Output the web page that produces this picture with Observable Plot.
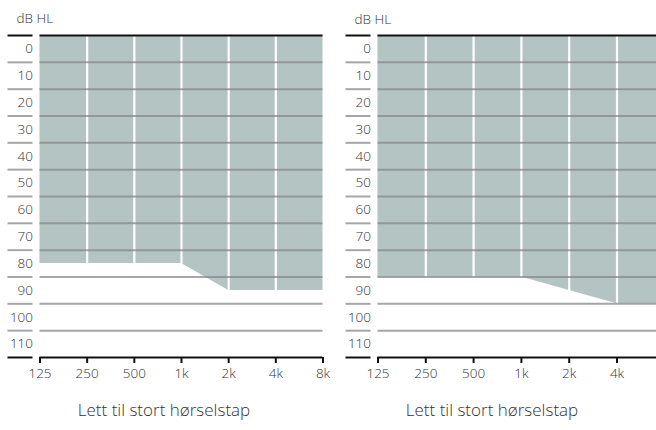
<!DOCTYPE html>
<html>
<head>
<meta charset="utf-8">
<script src="https://cdn.jsdelivr.net/npm/d3@7"></script>
<script src="https://cdn.jsdelivr.net/npm/@observablehq/plot@0.6"></script>
<style>
  html, body { margin: 0; padding: 0; background: #fff; }
  body { width: 656px; height: 430px; overflow: hidden; font-family: "Open Sans", "Noto Sans", sans-serif; }
  #charts { display: flex; width: 656px; overflow: hidden; height: 390px; }
  #charts > div { flex: none; }
  #charts svg { max-width: none; }
  #captions { display: flex; width: 656px; }
  #captions div { width: 328px; text-align: center; font-size: 17px; line-height: 40px; color: #333; font-weight: 300; }
</style>
</head>
<body>
<div id="charts"><div id="c1"></div><div id="c2"></div></div>
<div id="captions"><div id="t1"></div><div id="t2"></div></div>
<script>
// ---- data ----
const freqs = [125, 250, 500, 1000, 2000, 4000, 8000];
const freqLabels = ["125", "250", "500", "1k", "2k", "4k", "8k"];
const freqLabelsB = ["125", "250", "500", "1k", "2k", "4k", ""]; // 8k falls outside the visible page on the right chart
const levelLabels = [0, 10, 20, 30, 40, 50, 60, 70, 80, 90, 100, 110];
const bandEdges = [-5, 5, 15, 25, 35, 45, 55, 65, 75, 85, 95, 105, 115];
const innerFreqs = [250, 500, 1000, 2000, 4000];
const thresholdA = [80, 80, 80, 80, 90, 90, 90];
const thresholdB = [85, 85, 85, 85, 90, 95, 95];
const captionA = "Lett til stort hørselstap";
const captionB = "Lett til stort hørselstap";
const yLabel = "dB HL";

const fillColor = "#b4c4c2";
const lineColor = "#888";

function chart(thresholds, labels, width) {
  const rows = freqs.map((f, i) => ({freq: f, db: thresholds[i]}));
  const xTicks = freqs.map((f, i) => ({freq: f, label: labels[i]})).filter(d => d.label);
  const topEdge = bandEdges[0];
  const bottomEdge = bandEdges[bandEdges.length - 1];
  const innerEdges = bandEdges.slice(1, -1);
  return Plot.plot({
    width,
    height: 390,
    marginLeft: 39.5,
    marginRight: 15.7,
    marginTop: 35,
    marginBottom: 33,
    style: {fontFamily: "'Open Sans', 'Noto Sans', sans-serif", fontSize: "13.5px", color: "#333", fontWeight: 300, overflow: "visible"},
    x: {type: "log", domain: [freqs[0], freqs[freqs.length - 1]]},
    y: {domain: [topEdge, bottomEdge], reverse: true},
    marks: [
      Plot.areaY(rows, {x: "freq", y1: topEdge, y2: "db", fill: fillColor}),
      Plot.ruleX(innerFreqs, {stroke: "#fff", strokeWidth: 2.2}),
      Plot.ruleY(innerEdges, {stroke: lineColor, strokeOpacity: 0.75, strokeWidth: 2}),
      Plot.ruleY([topEdge, bottomEdge], {stroke: "#111", strokeWidth: 2}),
      Plot.axisY({ticks: innerEdges, tickSize: 25, dx: -7, tickFormat: () => "", stroke: lineColor, strokeOpacity: 0.75, strokeWidth: 2, label: null}),
      Plot.axisY({ticks: [topEdge, bottomEdge], tickSize: 25, dx: -7, tickFormat: () => "", stroke: "#111", strokeWidth: 2, label: null}),
      Plot.axisY({ticks: levelLabels, tickSize: 0, tickPadding: 7, label: null, fill: "#333", fontSize: 13.5}),
      Plot.axisX({ticks: freqs, tickFormat: () => "", tickSize: 6, stroke: "#111", strokeWidth: 2, label: null}),
      Plot.text(xTicks, {x: "freq", text: "label", frameAnchor: "bottom", lineAnchor: "top", dy: 11, fill: "#333", fontSize: 13.5}),
      Plot.text([yLabel], {frameAnchor: "top-left", textAnchor: "start", lineAnchor: "bottom", dx: -23.5, dy: -12, fill: "#333", fontSize: 13.5})
    ]
  });
}

document.getElementById("c1").append(chart(thresholdA, freqLabels, 338.2));
document.getElementById("c2").append(chart(thresholdB, freqLabelsB, 342));
document.getElementById("t1").textContent = captionA;
document.getElementById("t2").textContent = captionB;
</script>
</body>
</html>
